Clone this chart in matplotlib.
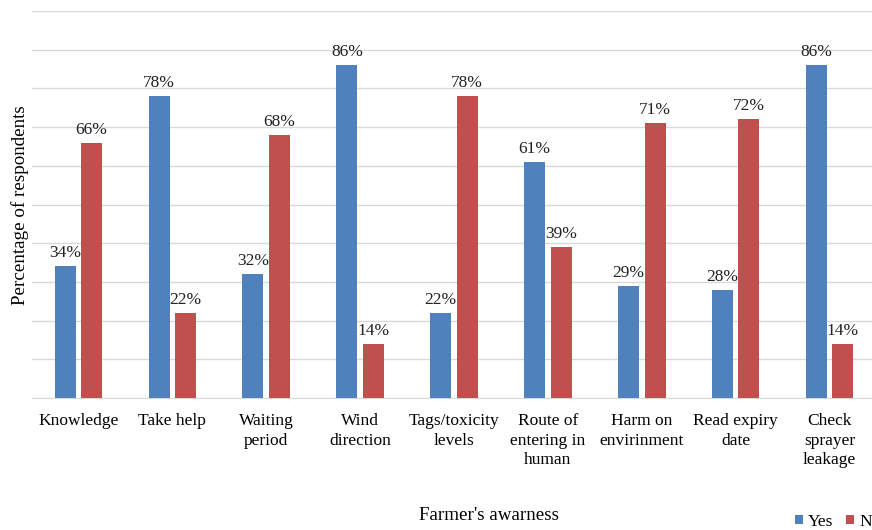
import numpy as np
import matplotlib
matplotlib.use("Agg")
import matplotlib.pyplot as plt

plt.rcParams['font.family'] = ['Liberation Serif', 'DejaVu Serif']

categories = ["Knowledge", "Take help", "Waiting\nperiod", "Wind\ndirection",
              "Tags/toxicity\nlevels", "Route of\nentering in\nhuman",
              "Harm on\nenvirinment", "Read expiry\ndate", "Check\nsprayer\nleakage"]
yes_vals = [34, 78, 32, 86, 22, 61, 29, 28, 86]
no_vals = [66, 22, 68, 14, 78, 39, 71, 72, 14]

blue = "#4F81BD"
red = "#C0504D"

fig = plt.figure(figsize=(8.72, 5.30), dpi=100)
# axes runs to the right edge (reference is cropped there)
ax = fig.add_axes([31.5/872, 132/530, 845/872, 387/530])

x = np.arange(len(categories))
w = 0.224
b1 = ax.bar(x - 0.141, yes_vals, w, color=blue, label="Yes", zorder=3)
b2 = ax.bar(x + 0.141, no_vals, w, color=red, label="No", zorder=3)

for bars, vals in [(b1, yes_vals), (b2, no_vals)]:
    for r, v in zip(bars, vals):
        ax.text(r.get_x() + r.get_width()/2, v + 1.3, f"{v}%",
                ha="center", va="bottom", fontsize=12.5, color="#222222")

ax.set_xlim(-0.5, len(categories) - 0.5)
ax.set_ylim(0, 100)
ax.set_yticks(np.arange(0, 101, 10))
ax.set_yticklabels([])
ax.tick_params(axis="y", length=0)
ax.tick_params(axis="x", length=0, pad=11)
ax.set_xticks(x)
ax.set_xticklabels(categories, fontsize=12.5, linespacing=1.27, va="top")
ax.grid(axis="y", color="#D9D9D9", linewidth=1, zorder=0)
for s in ["top", "right", "left"]:
    ax.spines[s].set_visible(False)
ax.spines["bottom"].set_color("#D9D9D9")

fig.text(20/872, 1 - 205/530, "Percentage of respondents", rotation=90,
         ha="center", va="center", fontsize=13.7)
fig.text(489/872, 1 - 516/530, "Farmer's awarness", ha="center", va="center",
         fontsize=13.7)

fig.legend(loc="center left", bbox_to_anchor=(795/872, 1 - 522/530), ncol=2,
           frameon=False, fontsize=12.5, handlelength=0.45, handleheight=0.45,
           handletextpad=0.3, columnspacing=0.75, borderaxespad=0,
           borderpad=0)

fig.savefig("out.png", dpi=100)
